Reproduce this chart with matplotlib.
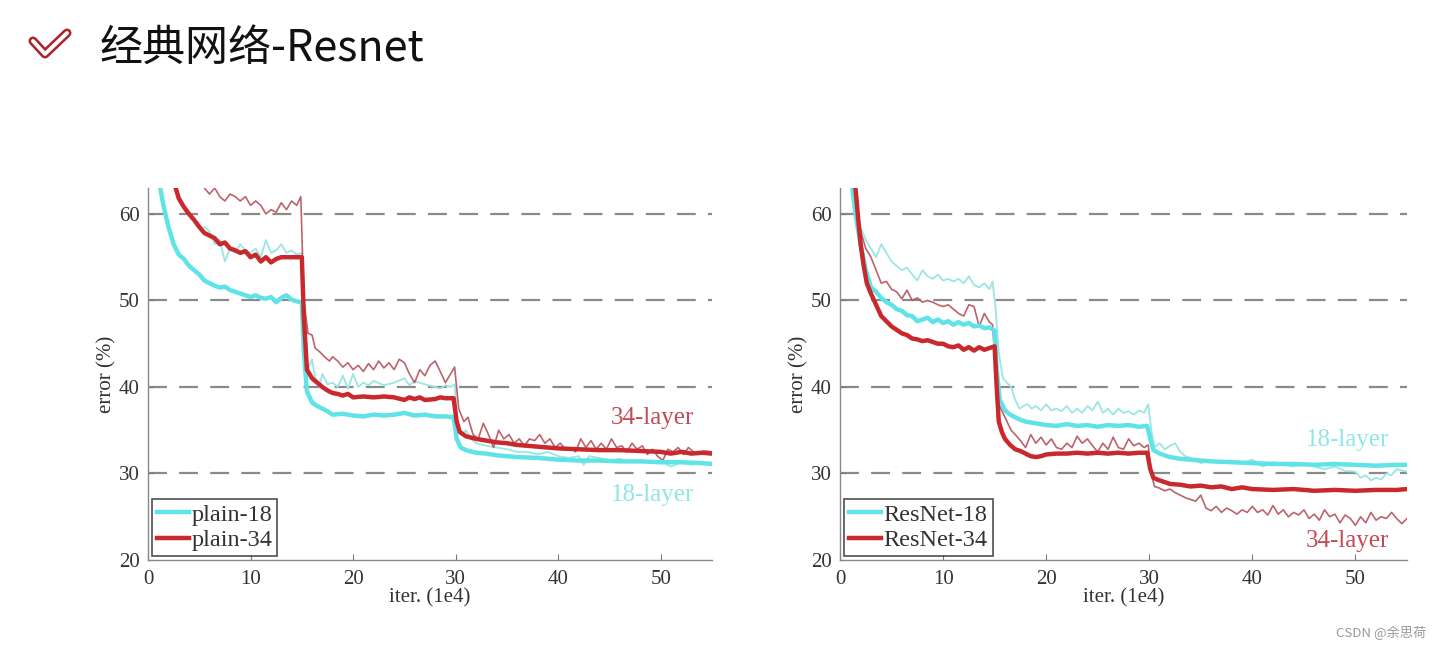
import matplotlib
matplotlib.use("Agg")
import matplotlib.pyplot as plt
import numpy as np
from matplotlib.lines import Line2D

# ---- data (iter in 1e4, error in %) ----
plain18_val = np.array([
    [1.2, 63], [1.5, 61], [2, 58.5], [2.5, 56.5], [3, 55.3], [3.5, 54.8], [4, 54], [4.5, 53.5],
    [5, 53], [5.5, 52.3], [6, 52], [6.5, 51.7], [7, 51.5], [7.5, 51.6], [8, 51.2], [8.5, 51],
    [9, 50.8], [9.5, 50.6], [10, 50.4], [10.5, 50.6], [11, 50.3], [11.5, 50.2], [12, 50.4],
    [12.5, 49.8], [13, 50.3], [13.5, 50.6], [14, 50.1], [14.5, 49.9], [15, 49.8], [15.2, 44],
    [15.5, 39.5], [16, 38.2], [16.5, 37.8], [17, 37.5], [17.5, 37.2], [18, 36.8], [19, 36.9],
    [20, 36.7], [21, 36.6], [22, 36.8], [23, 36.7], [24, 36.8], [25, 37], [26, 36.7], [27, 36.8],
    [28, 36.6], [29, 36.6], [29.8, 36.5], [30.1, 34], [30.5, 33], [31, 32.7], [32, 32.4],
    [33, 32.3], [34, 32.1], [35, 32], [36, 31.9], [38, 31.8], [40, 31.6], [42, 31.5], [44, 31.5],
    [46, 31.4], [48, 31.4], [50, 31.3], [52, 31.3], [54, 31.2], [55, 31.1]])

plain34_val = np.array([
    [2.7, 63], [3, 61.8], [3.5, 60.8], [4, 60], [4.5, 59.3], [5, 58.5], [5.5, 57.8], [6, 57.5],
    [6.5, 57.2], [7, 56.5], [7.5, 56.7], [8, 56], [8.5, 55.8], [9, 55.5], [9.5, 55.7], [10, 55],
    [10.5, 55.3], [11, 54.5], [11.5, 55], [12, 54.4], [12.5, 54.8], [13, 55], [13.5, 55], [14, 55],
    [14.5, 55], [15, 55], [15.2, 48], [15.5, 42], [16, 41], [16.5, 40.5], [17, 40], [17.5, 39.6],
    [18, 39.3], [18.5, 39.2], [19, 39], [19.5, 39.2], [20, 38.8], [21, 38.9], [22, 38.8],
    [23, 38.9], [24, 38.8], [25, 38.5], [25.5, 38.8], [26, 38.6], [26.5, 38.8], [27, 38.5],
    [28, 38.6], [28.5, 38.8], [29, 38.7], [29.8, 38.7], [30.1, 36], [30.4, 34.8], [31, 34.3],
    [32, 34], [33, 33.8], [34, 33.6], [35, 33.5], [36, 33.3], [37, 33.2], [38, 33.1], [39, 33],
    [40, 32.9], [42, 32.8], [44, 32.7], [46, 32.7], [48, 32.6], [50, 32.5], [51, 32.3],
    [52, 32.5], [53, 32.3], [54, 32.4], [55, 32.3]])

plain18_train = np.array([
    [5.5, 58.5], [6, 58], [6.5, 56.5], [7, 57], [7.5, 54.5], [8, 56], [8.5, 55.5], [9, 56.5],
    [9.5, 55.8], [10, 55.5], [10.5, 56], [11, 55], [11.5, 57], [12, 55.5], [12.5, 55.8],
    [13, 56.5], [13.5, 55.5], [14, 55.8], [14.5, 55.3], [15, 55.5], [15.3, 44], [15.6, 42],
    [16, 43.2], [16.3, 41], [16.7, 40], [17, 41.5], [17.5, 40.3], [18, 40.5], [18.5, 40],
    [19, 41.3], [19.5, 39.8], [20, 41.5], [20.5, 40], [21, 40.5], [21.5, 40.2], [22, 40.7],
    [23, 40.2], [24, 40.5], [25, 41], [25.5, 40.2], [26, 40.7], [27, 40.3], [28, 40], [28.5, 39.8],
    [29, 40.2], [29.5, 40], [29.9, 40.3], [30.2, 35.5], [30.6, 34.5], [31, 35], [31.5, 34],
    [32, 33.5], [33, 33.2], [34, 33], [35, 32.8], [36, 32.5], [37, 32.5], [38, 32.2], [39, 32.5],
    [40, 32], [41, 31.8], [42, 32], [42.5, 31], [43, 32], [44, 31.8], [45, 31.5], [46, 31.7],
    [47, 31.3], [48, 31.6], [49, 31.2], [50, 31.4], [51, 30.8], [52, 31.3], [53, 31], [54, 31.2],
    [55, 31]])

plain34_train = np.array([
    [5.5, 63], [6, 62.3], [6.5, 63], [7, 62], [7.5, 61.5], [8, 62.3], [8.5, 62], [9, 61.5],
    [9.5, 62], [10, 61], [10.5, 61.5], [11, 61], [11.5, 60], [12, 60.5], [12.5, 60.2], [13, 61.3],
    [13.5, 60.5], [14, 61.5], [14.5, 61], [14.9, 62], [15.2, 50], [15.6, 46.2], [16, 46],
    [16.3, 44.5], [16.8, 44], [17.2, 43.5], [17.7, 43], [18, 43.5], [18.5, 43], [19, 42.3],
    [19.5, 42.8], [20, 42], [20.5, 42.5], [21, 41.8], [21.5, 42.7], [22, 42], [22.5, 43],
    [23, 42.2], [23.5, 42.8], [24, 42], [24.5, 43.2], [25, 42.8], [25.5, 41.5], [26, 40.5],
    [26.5, 42], [27, 41.3], [27.5, 42.5], [28, 43], [28.5, 41.8], [29, 40.5], [29.5, 41.5],
    [29.9, 42.3], [30.3, 37.5], [30.8, 36], [31.2, 36.5], [31.7, 34.5], [32.2, 34], [32.7, 35.8],
    [33.2, 34.5], [33.7, 33], [34.2, 35], [34.7, 34], [35.2, 34.5], [35.7, 33.5], [36.2, 34],
    [36.7, 33.2], [37.2, 34], [37.7, 33.8], [38.2, 34.5], [38.7, 33.5], [39.2, 34], [39.7, 33],
    [40.2, 33.5], [40.7, 32.8], [41.2, 33], [41.7, 32.5], [42.2, 34], [42.7, 33], [43.2, 33.8],
    [43.7, 32.8], [44.2, 33.5], [44.7, 32.8], [45.2, 34], [45.7, 33], [46.2, 33.2], [46.7, 32.5],
    [47.2, 33.5], [47.7, 32.8], [48.2, 33.2], [48.7, 32.2], [49.2, 32.8], [49.7, 32],
    [50.2, 31.5], [50.7, 32.8], [51.2, 32.5], [51.7, 33], [52.2, 32.2], [52.7, 33], [53.2, 32.5],
    [53.7, 32.2], [54.2, 32.6], [55, 32.5]])

res18_val = np.array([
    [1.2, 63], [1.5, 60], [2, 56.5], [2.5, 53.5], [3, 51.5], [3.5, 51], [4, 50.3], [4.5, 49.8],
    [5, 49.5], [5.5, 49], [6, 48.8], [6.5, 48.3], [7, 48.2], [7.5, 47.6], [8, 47.8], [8.5, 48],
    [9, 47.5], [9.5, 47.8], [10, 47.4], [10.5, 47.6], [11, 47.2], [11.5, 47.5], [12, 47.2],
    [12.5, 47.4], [13, 47], [13.5, 47.1], [14, 46.8], [14.5, 46.9], [15, 46.5], [15.2, 42],
    [15.5, 38.5], [16, 37.3], [16.5, 36.8], [17, 36.5], [17.5, 36.2], [18, 36], [19, 35.8],
    [20, 35.6], [21, 35.5], [22, 35.7], [23, 35.5], [24, 35.6], [25, 35.4], [26, 35.6],
    [27, 35.5], [28, 35.6], [29, 35.4], [29.8, 35.5], [30.1, 34], [30.4, 32.7], [31, 32.3],
    [32, 31.9], [33, 31.7], [34, 31.6], [35, 31.5], [36, 31.4], [38, 31.3], [40, 31.2],
    [42, 31.1], [44, 31.1], [46, 31], [48, 31.1], [50, 31], [52, 30.9], [54, 31], [55, 31]])

res34_val = np.array([
    [1.5, 63], [1.8, 59], [2, 56.5], [2.3, 54], [2.6, 52], [3, 50.8], [3.5, 49.5], [4, 48.2],
    [4.5, 47.6], [5, 47], [5.5, 46.6], [6, 46.2], [6.5, 46], [7, 45.6], [7.5, 45.5], [8, 45.3],
    [8.5, 45.4], [9, 45.2], [9.5, 45], [10, 45], [10.5, 44.7], [11, 44.6], [11.5, 44.8],
    [12, 44.3], [12.5, 44.6], [13, 44.2], [13.5, 44.6], [14, 44.3], [14.5, 44.5], [15, 44.7],
    [15.2, 40], [15.4, 36], [15.7, 34.8], [16, 34], [16.5, 33.3], [17, 32.8], [17.5, 32.6],
    [18, 32.3], [18.5, 32], [19, 31.9], [19.5, 32], [20, 32.2], [21, 32.3], [22, 32.3],
    [23, 32.4], [24, 32.3], [25, 32.4], [26, 32.3], [27, 32.4], [28, 32.3], [29, 32.4],
    [29.8, 32.4], [30.1, 30.5], [30.4, 29.5], [31, 29.2], [32, 28.8], [33, 28.7], [34, 28.5],
    [35, 28.6], [36, 28.4], [37, 28.5], [38, 28.2], [39, 28.4], [40, 28.2], [42, 28.1],
    [44, 28.2], [46, 28], [48, 28.1], [50, 28], [52, 28.1], [54, 28.1], [55, 28.2]])

res18_train = np.array([
    [1.2, 63], [1.5, 60.5], [2, 58.5], [2.5, 57], [3, 56], [3.5, 55], [4, 56.5], [4.5, 55.5],
    [5, 54.5], [5.5, 54], [6, 53.5], [6.5, 53.8], [7, 53], [7.5, 52.3], [8, 53.5], [8.5, 52.8],
    [9, 52.5], [9.5, 53], [10, 52.3], [10.5, 52.5], [11, 52.2], [11.5, 52.5], [12, 52],
    [12.5, 52.8], [13, 51.8], [13.5, 51.5], [14, 52], [14.5, 51.3], [14.8, 52.2], [15.1, 49],
    [15.4, 44], [15.8, 41], [16.2, 40.5], [16.6, 40], [17, 38.5], [17.4, 37.5], [17.8, 37.8],
    [18.2, 38], [18.6, 37.5], [19, 37.8], [19.5, 37.3], [20, 38], [20.5, 37.3], [21, 37.5],
    [21.5, 37.2], [22, 37.8], [22.5, 37], [23, 37.5], [23.5, 37], [24, 37.8], [24.5, 37.3],
    [25, 38.3], [25.5, 37], [26, 37.5], [26.5, 36.8], [27, 37.5], [27.5, 37], [28, 37.2],
    [28.5, 36.8], [29, 37.3], [29.5, 37], [29.9, 38], [30.2, 35], [30.5, 33], [31, 33.5],
    [31.5, 32.8], [32, 33.2], [32.5, 33.5], [33, 32.5], [33.5, 32], [34, 31.8], [34.5, 31.5],
    [35, 31.2], [36, 31.5], [37, 31.3], [38, 31.5], [39, 31.2], [40, 31.6], [41, 30.8],
    [42, 31.3], [43, 31], [44, 30.8], [45, 31.2], [46, 30.8], [47, 30.5], [48, 30.8], [49, 30.3],
    [50, 30.2], [50.5, 29.5], [51, 29.8], [51.5, 29.2], [52, 29.5], [52.5, 29.3], [53, 30],
    [53.5, 29.8], [54, 30.5], [55, 30.2]])

res34_train = np.array([
    [1.2, 63], [1.5, 61], [2, 58], [2.5, 56], [3, 55], [3.5, 53.5], [4, 52], [4.5, 52.2],
    [5, 51.3], [5.5, 51], [6, 50.2], [6.5, 51.2], [7, 50], [7.5, 50.3], [8, 49.8], [8.5, 50],
    [9, 49.8], [9.5, 49.5], [10, 49.3], [10.5, 49.5], [11, 49], [11.5, 48.5], [12, 48.2],
    [12.5, 49.5], [13, 49.3], [13.5, 47], [14, 48.5], [14.5, 47.5], [14.8, 47.2], [15.1, 42],
    [15.4, 38], [15.8, 37], [16.2, 36], [16.6, 35], [17, 34.5], [17.5, 33.8], [18, 33],
    [18.5, 34.5], [19, 33.5], [19.5, 34.2], [20, 33.3], [20.5, 34], [21, 33], [21.5, 32.8],
    [22, 33.5], [22.5, 33], [23, 34.3], [23.5, 33.5], [24, 34], [24.5, 33.2], [25, 32.5],
    [25.5, 33.5], [26, 32.8], [26.5, 34.2], [27, 33], [27.5, 32.8], [28, 34], [28.5, 33.2],
    [29, 33.5], [29.5, 33], [29.9, 33.3], [30.2, 30], [30.5, 28.5], [31, 28.3], [31.5, 28],
    [32, 28.2], [32.5, 27.8], [33, 27.5], [33.5, 27.2], [34, 27], [34.5, 26.8], [35, 27.5],
    [35.5, 26], [36, 25.7], [36.5, 26.2], [37, 25.5], [37.5, 26], [38, 25.7], [38.5, 25.3],
    [39, 25.8], [39.5, 25.5], [40, 26.2], [40.5, 25.5], [41, 25.8], [41.5, 25.2], [42, 26.3],
    [42.5, 25.3], [43, 25.8], [43.5, 25], [44, 25.5], [44.5, 25.2], [45, 25.8], [45.5, 24.8],
    [46, 25.3], [46.5, 24.6], [47, 25.8], [47.5, 25], [48, 25.3], [48.5, 24.3], [49, 25.2],
    [49.5, 24.8], [50, 24], [50.5, 25], [51, 24.3], [51.5, 25.5], [52, 24.6], [52.5, 25],
    [53, 24.8], [53.5, 25.5], [54, 24.8], [54.5, 24.2], [55, 24.8]])

legend_left = ["plain-18", "plain-34"]
legend_right = ["ResNet-18", "ResNet-34"]
x_ticks = [0, 10, 20, 30, 40, 50]
y_ticks = [20, 30, 40, 50, 60]
grid_levels = [30, 40, 50, 60]

CYAN = "#5fe3e6"
CYAN_THIN = "#9ae6e4"
RED = "#c9282c"
RED_THIN = "#b5525c"

SERIF = ["Liberation Serif", "DejaVu Serif"]

fig = plt.figure(figsize=(14.42, 6.5), dpi=100)
fig.patch.set_facecolor("white")

# title with check icon
fig.text(100 / 1442, 1 - 49 / 650, "经典网络-Resnet", fontsize=31,
         family=["Noto Sans CJK SC", "DejaVu Sans"], weight="light", color="#111111",
         va="center", ha="left")
chk_x = np.array([33, 45, 67]) / 1442
chk_y = 1 - np.array([41, 54, 33]) / 650
fig.add_artist(Line2D(chk_x, chk_y, transform=fig.transFigure, color="#a8262c", lw=6.5,
                      solid_capstyle="round", solid_joinstyle="round"))
fig.add_artist(Line2D(chk_x, chk_y, transform=fig.transFigure, color="white", lw=2.8,
                      solid_capstyle="round", solid_joinstyle="round"))
fig.text(1426 / 1442, 1 - 633 / 650, "CSDN @余思荷", fontsize=9.5, color="#999999",
         family=["Noto Sans CJK SC", "DejaVu Sans"], ha="right", va="center")


def draw_panel(ax, thin18, thin34, thick18, thick34, labels, lab18_y, lab34_y):
    for lvl in grid_levels:
        ax.axhline(lvl, color="#8a8a8a", lw=1.6, dashes=(8.5, 5.5), zorder=1)
    ax.plot(thin18[:, 0], thin18[:, 1], color=CYAN_THIN, lw=1.3, zorder=2)
    ax.plot(thin34[:, 0], thin34[:, 1], color=RED_THIN, lw=1.2, alpha=0.9, zorder=2)
    ax.plot(thick18[:, 0], thick18[:, 1], color=CYAN, lw=3.2, zorder=3, label=labels[0])
    ax.plot(thick34[:, 0], thick34[:, 1], color=RED, lw=3.2, zorder=4, label=labels[1])
    ax.set_xlim(0, 55)
    ax.set_ylim(20, 63)
    ax.set_xticks(x_ticks)
    ax.set_yticks(y_ticks)
    ax.tick_params(direction="in", length=4, color="#777777", labelsize=15,
                   labelcolor="#333333")
    ax.tick_params(axis="x", pad=7)
    ax.tick_params(axis="y", pad=6)
    for lab in ax.get_xticklabels() + ax.get_yticklabels():
        lab.set_family(SERIF)
    for s in ["top", "right"]:
        ax.spines[s].set_visible(False)
    for s in ["left", "bottom"]:
        ax.spines[s].set_color("#888888")
        ax.spines[s].set_linewidth(1.0)
    ax.set_xlabel("iter. (1e4)", fontsize=15, family=SERIF, color="#333333", labelpad=0)
    ax.set_ylabel("error (%)", fontsize=15, family=SERIF, color="#333333", labelpad=2)
    leg = ax.legend(loc="lower left", prop={"family": SERIF, "size": 17.5}, frameon=True,
                    fancybox=False, edgecolor="#222222", handlelength=1.35, handletextpad=0.1,
                    borderpad=0.2, borderaxespad=0.15, labelspacing=0.15)
    leg.get_frame().set_linewidth(1.2)
    for t in leg.get_texts():
        t.set_color("#333333")
    ax.text(49.2, lab34_y, "34-layer", fontsize=18, family=SERIF, color="#c44a55",
            ha="center", va="center", zorder=5)
    ax.text(49.2, lab18_y, "18-layer", fontsize=18, family=SERIF, color="#8fe6e6",
            ha="center", va="center", zorder=5)


ax1 = fig.add_axes([148 / 1442, 1 - 560 / 650, 564 / 1442, 372 / 650])
draw_panel(ax1, plain18_train, plain34_train, plain18_val, plain34_val, legend_left, 27.5, 36.4)

ax2 = fig.add_axes([840 / 1442, 1 - 560 / 650, 567 / 1442, 372 / 650])
draw_panel(ax2, res18_train, res34_train, res18_val, res34_val, legend_right, 33.9, 22.2)

fig.savefig("out.png", dpi=100, facecolor="white")
